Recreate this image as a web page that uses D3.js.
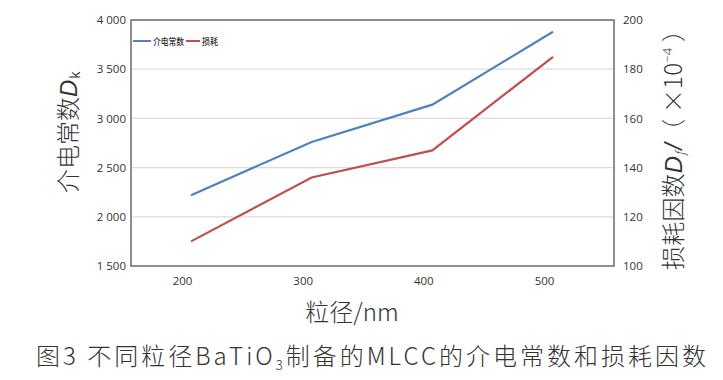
<!DOCTYPE html>
<html><head><meta charset="utf-8">
<script src="https://cdn.jsdelivr.net/npm/d3@7"></script>
<style>body{margin:0;background:#fff;}svg{display:block;}</style>
</head><body>
<script>
const sizes = [200, 300, 400, 500];
const dielectric = [2220, 2760, 3140, 3880];
const loss = [110, 136, 147, 185];
const leftTicks = [1500, 2000, 2500, 3000, 3500, 4000];
const rightTicks = [100, 120, 140, 160, 180, 200];
const xTicks = [200, 300, 400, 500];

const W = 723, H = 380;
const m = {left: 131, right: 614, top: 20, bottom: 266};
const svg = d3.select("body").append("svg").attr("width", W).attr("height", H);
const cjk = "'Noto Sans CJK SC','Noto Sans',sans-serif";
const num = "'Open Sans','Noto Sans',sans-serif";
const ital = "'Liberation Sans',sans-serif";

const x = d3.scaleLinear().domain([200, 500]).range([191, 553]);
const yL = d3.scaleLinear().domain([1500, 4000]).range([m.bottom, m.top]);
const yR = d3.scaleLinear().domain([100, 200]).range([m.bottom, m.top]);

// grid
svg.append("g").selectAll("line").data(leftTicks.slice(1, -1)).join("line")
  .attr("x1", m.left).attr("x2", m.right)
  .attr("y1", d => yL(d)).attr("y2", d => yL(d))
  .attr("stroke", "#dcdcdc").attr("stroke-width", 1.2);

// frame
svg.append("rect").attr("x", m.left).attr("y", m.top)
  .attr("width", m.right - m.left).attr("height", m.bottom - m.top)
  .attr("fill", "none").attr("stroke", "#6a6a6a").attr("stroke-width", 1.5);

// axes
const axL = svg.append("g").attr("transform", `translate(${m.left},0)`)
  .call(d3.axisLeft(yL).tickValues(leftTicks).tickSize(0).tickPadding(5)
    .tickFormat(d => d3.format(",")(d).replace(",", " ")));
const axR = svg.append("g").attr("transform", `translate(${m.right},0)`)
  .call(d3.axisRight(yR).tickValues(rightTicks).tickSize(0).tickPadding(9));
const axB = svg.append("g").attr("transform", `translate(0,${m.bottom})`)
  .call(d3.axisBottom(x).tickValues(xTicks).tickSize(0).tickPadding(11));
[axL, axR, axB].forEach(a => {
  a.select(".domain").remove();
  a.selectAll("text").attr("font-family", num).attr("font-size", 11.5).attr("fill", "#333");
});
axB.selectAll("text").attr("dx", -9);

// lines
const lineL = d3.line().x((d, i) => x(sizes[i])).y(d => yL(d));
const lineR = d3.line().x((d, i) => x(sizes[i])).y(d => yR(d));
svg.append("path").datum(dielectric).attr("d", lineL)
  .attr("fill", "none").attr("stroke", "#4f81bd").attr("stroke-width", 2.2);
svg.append("path").datum(loss).attr("d", lineR)
  .attr("fill", "none").attr("stroke", "#c0504d").attr("stroke-width", 2.2);

// legend
const lg = svg.append("g").attr("font-family", cjk).attr("font-size", 9.5).attr("font-weight", 500).attr("fill", "#333");
lg.append("line").attr("x1", 133).attr("x2", 151).attr("y1", 41).attr("y2", 41).attr("stroke", "#4f81bd").attr("stroke-width", 2);
lg.append("text").attr("x", 153).attr("y", 44.5).attr("textLength", 31).attr("lengthAdjust", "spacingAndGlyphs").text("介电常数");
lg.append("line").attr("x1", 186).attr("x2", 200).attr("y1", 41).attr("y2", 41).attr("stroke", "#c0504d").attr("stroke-width", 2);
lg.append("text").attr("x", 202).attr("y", 44.5).attr("textLength", 16).attr("lengthAdjust", "spacingAndGlyphs").text("损耗");

// axis titles
const tl = svg.append("text").attr("transform", "translate(77,193) rotate(-90)")
  .attr("text-anchor", "start").attr("font-family", cjk).attr("font-size", 24).attr("fill", "#333")
  .attr("font-weight", 300);
tl.append("tspan").text("介电常数");
tl.append("tspan").attr("font-style", "italic").attr("font-family", ital).attr("font-weight", 400).text("D");
tl.append("tspan").attr("font-size", 14).attr("dy", 3).attr("dx", 1).attr("font-family", num).attr("font-weight", 400).text("k");

const tr = svg.append("text").attr("transform", "translate(682,270) rotate(-90)")
  .attr("text-anchor", "start").attr("font-family", cjk).attr("font-size", 24).attr("fill", "#333")
  .attr("font-weight", 300).attr("textLength", 252).attr("lengthAdjust", "spacing");
tr.append("tspan").text("损耗因数");
tr.append("tspan").attr("font-style", "italic").attr("font-family", ital).attr("font-weight", 400).text("D");
tr.append("tspan").attr("font-size", 13).attr("dy", 3).attr("dx", 1).attr("font-family", num).attr("font-style", "italic").text("f");
tr.append("tspan").attr("dy", -3).attr("dx", 1).attr("font-style", "italic").attr("font-family", ital).text("/");
tr.append("tspan").text("（ ×10");
tr.append("tspan").attr("font-size", 13).attr("dy", -10).attr("font-family", num).text("−4");
tr.append("tspan").attr("dy", 10).text(" ）");

svg.append("text").attr("x", 352).attr("y", 321).attr("text-anchor", "middle")
  .attr("font-family", cjk).attr("font-size", 24).attr("font-weight", 300).attr("fill", "#333").text("粒径/nm");

// caption
const cap = svg.append("text").attr("x", 36).attr("y", 365)
  .attr("font-family", cjk).attr("font-size", 24).attr("font-weight", 300).attr("fill", "#333")
  .attr("textLength", 670).attr("lengthAdjust", "spacing");
cap.append("tspan").text("图3  不同粒径BaTiO");
cap.append("tspan").attr("font-size", 13).attr("dy", 5).text("3");
cap.append("tspan").attr("dy", -5).text("制备的MLCC的介电常数和损耗因数");
</script>
</body></html>
